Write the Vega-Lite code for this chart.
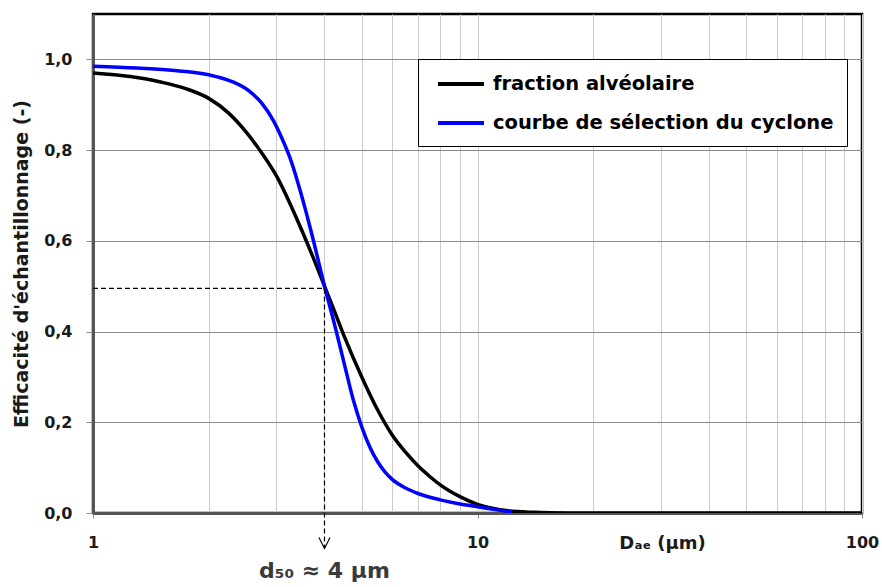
{
  "$schema": "https://vega.github.io/schema/vega-lite/v6.json",
  "autosize": "none",
  "width": 769,
  "height": 499,
  "padding": {"left": 93, "top": 14, "right": 20, "bottom": 74},
  "background": "white",
  "config": {
    "font": "DejaVu Sans",
    "view": {"stroke": "#000000", "strokeWidth": 2.5}
  },
  "datasets": {
    "curves": [
      {"D": 1, "E": 0.970, "serie": "fraction alvéolaire"},
      {"D": 1.25, "E": 0.962, "serie": "fraction alvéolaire"},
      {"D": 1.5, "E": 0.950, "serie": "fraction alvéolaire"},
      {"D": 1.75, "E": 0.935, "serie": "fraction alvéolaire"},
      {"D": 2, "E": 0.914, "serie": "fraction alvéolaire"},
      {"D": 2.25, "E": 0.882, "serie": "fraction alvéolaire"},
      {"D": 2.5, "E": 0.840, "serie": "fraction alvéolaire"},
      {"D": 2.75, "E": 0.793, "serie": "fraction alvéolaire"},
      {"D": 3, "E": 0.743, "serie": "fraction alvéolaire"},
      {"D": 3.25, "E": 0.683, "serie": "fraction alvéolaire"},
      {"D": 3.5, "E": 0.621, "serie": "fraction alvéolaire"},
      {"D": 3.75, "E": 0.560, "serie": "fraction alvéolaire"},
      {"D": 4, "E": 0.500, "serie": "fraction alvéolaire"},
      {"D": 4.25, "E": 0.444, "serie": "fraction alvéolaire"},
      {"D": 4.5, "E": 0.390, "serie": "fraction alvéolaire"},
      {"D": 5, "E": 0.300, "serie": "fraction alvéolaire"},
      {"D": 5.5, "E": 0.227, "serie": "fraction alvéolaire"},
      {"D": 6, "E": 0.172, "serie": "fraction alvéolaire"},
      {"D": 6.5, "E": 0.134, "serie": "fraction alvéolaire"},
      {"D": 7, "E": 0.104, "serie": "fraction alvéolaire"},
      {"D": 7.5, "E": 0.081, "serie": "fraction alvéolaire"},
      {"D": 8, "E": 0.062, "serie": "fraction alvéolaire"},
      {"D": 9, "E": 0.036, "serie": "fraction alvéolaire"},
      {"D": 10, "E": 0.019, "serie": "fraction alvéolaire"},
      {"D": 11, "E": 0.010, "serie": "fraction alvéolaire"},
      {"D": 12, "E": 0.005, "serie": "fraction alvéolaire"},
      {"D": 14, "E": 0.0015, "serie": "fraction alvéolaire"},
      {"D": 17, "E": 0.0, "serie": "fraction alvéolaire"},
      {"D": 25, "E": 0.0, "serie": "fraction alvéolaire"},
      {"D": 50, "E": 0.0, "serie": "fraction alvéolaire"},
      {"D": 100, "E": 0.0, "serie": "fraction alvéolaire"},
      {"D": 1, "E": 0.985, "serie": "courbe de sélection du cyclone"},
      {"D": 1.3, "E": 0.981, "serie": "courbe de sélection du cyclone"},
      {"D": 1.6, "E": 0.976, "serie": "courbe de sélection du cyclone"},
      {"D": 2, "E": 0.966, "serie": "courbe de sélection du cyclone"},
      {"D": 2.3, "E": 0.951, "serie": "courbe de sélection du cyclone"},
      {"D": 2.55, "E": 0.930, "serie": "courbe de sélection du cyclone"},
      {"D": 2.75, "E": 0.903, "serie": "courbe de sélection du cyclone"},
      {"D": 2.95, "E": 0.864, "serie": "courbe de sélection du cyclone"},
      {"D": 3.1, "E": 0.826, "serie": "courbe de sélection du cyclone"},
      {"D": 3.25, "E": 0.784, "serie": "courbe de sélection du cyclone"},
      {"D": 3.5, "E": 0.695, "serie": "courbe de sélection du cyclone"},
      {"D": 3.75, "E": 0.598, "serie": "courbe de sélection du cyclone"},
      {"D": 4, "E": 0.500, "serie": "courbe de sélection du cyclone"},
      {"D": 4.25, "E": 0.415, "serie": "courbe de sélection du cyclone"},
      {"D": 4.5, "E": 0.330, "serie": "courbe de sélection du cyclone"},
      {"D": 4.75, "E": 0.250, "serie": "courbe de sélection du cyclone"},
      {"D": 5, "E": 0.190, "serie": "courbe de sélection du cyclone"},
      {"D": 5.25, "E": 0.145, "serie": "courbe de sélection du cyclone"},
      {"D": 5.5, "E": 0.113, "serie": "courbe de sélection du cyclone"},
      {"D": 5.75, "E": 0.090, "serie": "courbe de sélection du cyclone"},
      {"D": 6, "E": 0.074, "serie": "courbe de sélection du cyclone"},
      {"D": 6.5, "E": 0.055, "serie": "courbe de sélection du cyclone"},
      {"D": 7, "E": 0.043, "serie": "courbe de sélection du cyclone"},
      {"D": 8, "E": 0.029, "serie": "courbe de sélection du cyclone"},
      {"D": 9, "E": 0.020, "serie": "courbe de sélection du cyclone"},
      {"D": 10, "E": 0.014, "serie": "courbe de sélection du cyclone"},
      {"D": 11, "E": 0.008, "serie": "courbe de sélection du cyclone"},
      {"D": 12.3, "E": 0.002, "serie": "courbe de sélection du cyclone"}
    ],
    "d50": [
      {"D0": 1, "D50": 4, "E50": 0.495, "Ebas": -0.077, "Efleche": -0.066, "Etexte": -0.143, "label": "d₅₀ ≈ 4 µm"}
    ]
  },
  "layer": [
    {
      "data": {"name": "curves"},
      "mark": {"type": "line", "interpolate": "monotone", "strokeWidth": 3.5, "clip": true},
      "encoding": {
        "x": {
          "field": "D",
          "type": "quantitative",
          "scale": {"type": "log", "domain": [1, 100], "nice": false},
          "axis": {
            "values": [1, 2, 3, 4, 5, 6, 7, 8, 9, 10, 20, 30, 40, 50, 60, 70, 80, 90, 100],
            "labelExpr": "indexof([1, 10, 100], datum.value) >= 0 ? datum.label : ''",
            "labelOverlap": false,
            "labelFlush": false,
            "labelFont": "DejaVu Sans",
            "labelFontSize": 16,
            "labelFontWeight": "bold",
            "labelColor": "#1a1a1a",
            "labelPadding": 16,
            "tickSize": 5,
            "tickColor": "#8c8c8c",
            "tickOpacity": {"condition": {"test": "indexof([1, 10, 100], datum.value) >= 0", "value": 1}, "value": 0},
            "grid": true,
            "gridColor": "#cccccc",
            "gridWidth": 1,
            "domainColor": "#555555",
            "domainWidth": 3,
            "title": "Dₐₑ (µm)",
            "titleFont": "DejaVu Sans",
            "titleFontSize": 18,
            "titleFontWeight": "bold",
            "titleColor": "#1a1a1a",
            "titleX": 569,
            "titleY": 35,
            "titleAlign": "center",
            "titleAnchor": null,
            "titleBaseline": "alphabetic"
          }
        },
        "y": {
          "field": "E",
          "type": "quantitative",
          "scale": {"domain": [0, 1.1], "nice": false, "zero": false},
          "axis": {
            "values": [0, 0.2, 0.4, 0.6, 0.8, 1.0],
            "labelExpr": "replace(format(datum.value, '.1f'), '.', ',')",
            "labelFont": "DejaVu Sans",
            "labelFontSize": 16,
            "labelFontWeight": "bold",
            "labelColor": "#1a1a1a",
            "labelPadding": 14,
            "tickSize": 7,
            "tickColor": "#8c8c8c",
            "grid": true,
            "gridColor": "#8c8c8c",
            "gridWidth": 1,
            "domainColor": "#555555",
            "domainWidth": 3,
            "title": "Efficacité d'échantillonnage (-)",
            "titleFont": "DejaVu Sans",
            "titleFontSize": 19,
            "titleFontWeight": "bold",
            "titleColor": "#1a1a1a",
            "titlePadding": 12
          }
        },
        "color": {
          "field": "serie",
          "type": "nominal",
          "sort": ["fraction alvéolaire", "courbe de sélection du cyclone"],
          "scale": {"domain": ["fraction alvéolaire", "courbe de sélection du cyclone"], "range": ["#000000", "#0000ff"]},
          "legend": {
            "title": null,
            "orient": "none",
            "legendX": 325,
            "legendY": 45,
            "symbolType": "M-2.3,0L2.3,0",
            "symbolSize": 400,
            "symbolStrokeWidth": 4,
            "symbolOffset": 18,
            "labelFont": "DejaVu Sans",
            "labelFontSize": 19.5,
            "labelFontWeight": "bold",
            "labelOffset": 20,
            "labelLimit": 500,
            "rowPadding": 17,
            "padding": 13,
            "strokeColor": "#000000",
            "fillColor": "#ffffff",
            "encoding": {
              "labels": {
                "update": {
                  "fill": {"signal": "datum.label === 'fraction alvéolaire' ? '#222222' : '#0000ff'"}
                }
              },
              "legend": {
                "update": {"strokeWidth": {"value": 1.5}}
              }
            }
          }
        },
        "order": {"field": "D", "type": "quantitative"}
      }
    },
    {
      "data": {"name": "d50"},
      "mark": {"type": "rule", "strokeDash": [5, 3], "strokeWidth": 1.2, "color": "#000000"},
      "encoding": {
        "x": {"field": "D0", "type": "quantitative"},
        "x2": {"field": "D50"},
        "y": {"field": "E50", "type": "quantitative"}
      }
    },
    {
      "data": {"name": "d50"},
      "mark": {"type": "rule", "strokeDash": [5, 3], "strokeWidth": 1.2, "color": "#000000"},
      "encoding": {
        "x": {"field": "D50", "type": "quantitative"},
        "y": {"field": "E50", "type": "quantitative"},
        "y2": {"field": "Ebas"}
      }
    },
    {
      "data": {"name": "d50"},
      "mark": {"type": "point", "shape": "M-1,-1L0,1L1,-1", "filled": false, "size": 121, "strokeWidth": 1.2, "color": "#000000", "opacity": 1},
      "encoding": {
        "x": {"field": "D50", "type": "quantitative"},
        "y": {"field": "Efleche", "type": "quantitative"}
      }
    },
    {
      "data": {"name": "d50"},
      "mark": {"type": "text", "font": "DejaVu Sans", "fontSize": 22, "fontWeight": "bold", "color": "#3a3a3a", "align": "center", "baseline": "alphabetic"},
      "encoding": {
        "x": {"field": "D50", "type": "quantitative"},
        "y": {"field": "Etexte", "type": "quantitative"},
        "text": {"field": "label"}
      }
    }
  ]
}
